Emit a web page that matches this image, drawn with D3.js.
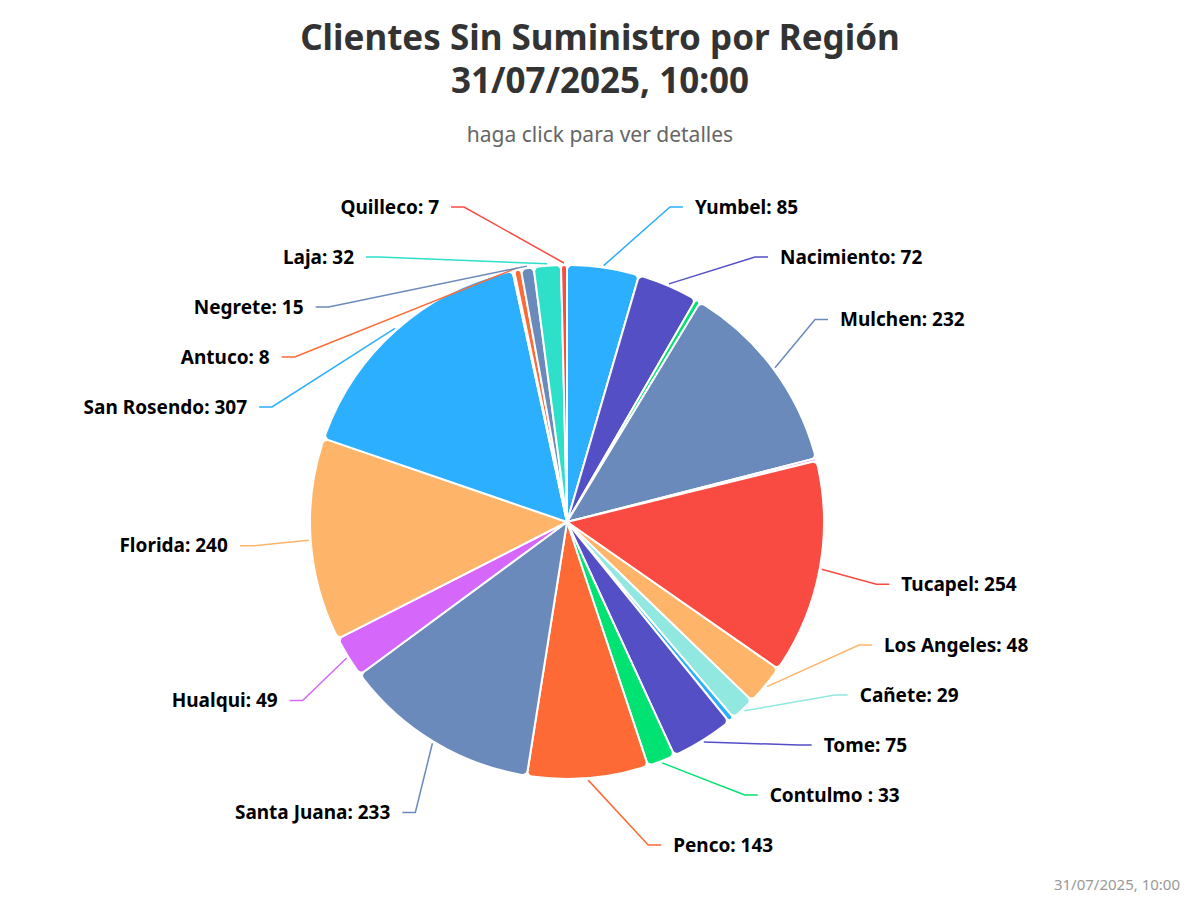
<!DOCTYPE html>
<html><head><meta charset="utf-8">
<script src="https://cdn.jsdelivr.net/npm/d3@7"></script>
<style>body{margin:0;background:#fff}text{font-family:"Noto Sans","Open Sans",Arial,sans-serif}</style>
</head><body>
<svg id="c" width="1200" height="900"></svg>
<script>
const names = ["Yumbel","Nacimiento","","Mulchen","","Tucapel","Los Angeles","Cañete","","Tome","Contulmo ","Penco","Santa Juana","Hualqui","Florida","San Rosendo","","Antuco","Negrete","Laja","Quilleco"];
const values = [85,72,6,232,3,254,48,29,7,75,33,143,233,49,240,307,2,8,15,32,7];
const colors = ["#2caffe","#544fc5","#00e272","#6b8abc","#d568fb","#fa4b42","#feb56a","#91e8e1","#2caffe","#544fc5","#00e272","#fe6a35","#6b8abc","#d568fb","#feb56a","#2caffe","#00e272","#fe6a35","#6b8abc","#2ee0ca","#fa4b42"];
const data = names.map((n,i)=>({name:n,value:values[i],color:colors[i]}));

const svg = d3.select("#c");
svg.append("text").attr("x",600).attr("y",50).attr("text-anchor","middle").attr("font-size",35).attr("font-weight","bold").attr("fill","#333").text("Clientes Sin Suministro por Región");
svg.append("text").attr("x",600).attr("y",93).attr("text-anchor","middle").attr("font-size",35).attr("font-weight","bold").attr("fill","#333").text("31/07/2025, 10:00");
svg.append("text").attr("x",600).attr("y",142).attr("text-anchor","middle").attr("font-size",21).attr("fill","#666").text("haga click para ver detalles");
svg.append("text").attr("x",1180).attr("y",890).attr("text-anchor","end").attr("font-size",15).attr("fill","#999").text("31/07/2025, 10:00");

const cx=567, cy=522, r=257, Rl=340;
const pie = d3.pie().value(d=>d.value).sort(null);
const arcs = pie(data);
const arc = d3.arc().innerRadius(0).outerRadius(r).cornerRadius(5);
const g = svg.append("g").attr("transform",`translate(${cx},${cy})`);
g.selectAll("path").data(arcs).join("path").attr("d",arc).attr("fill",d=>d.data.color).attr("stroke","#fff").attr("stroke-width",2).attr("stroke-linejoin","round");

const labs = arcs.filter(a=>a.data.name).map(a=>{
  const m=(a.startAngle+a.endAngle)/2;
  return {a, m, side: Math.sin(m)>=0?1:-1, y: -Rl*Math.cos(m)};
});
const yTop=-315, yBot=323, gap=50;
[1,-1].forEach(s=>{
  const L=labs.filter(l=>l.side===s).sort((p,q)=>p.y-q.y);
  L.forEach(l=>{l.y=Math.max(yTop,Math.min(yBot,l.y));});
  for(let i=1;i<L.length;i++) if(L[i].y<L[i-1].y+gap) L[i].y=L[i-1].y+gap;
  if(L.length&&L[L.length-1].y>yBot){L[L.length-1].y=yBot;for(let i=L.length-2;i>=0;i--) if(L[i].y>L[i+1].y-gap) L[i].y=L[i+1].y-gap;}
});
labs.forEach(l=>{
  const dy=Math.min(Math.abs(l.y),Rl-1);
  const x=l.side*Math.sqrt(Rl*Rl-dy*dy);
  const px=Math.sin(l.m)*(r+2), py=-Math.cos(l.m)*(r+2);
  const ex=x-l.side*25;
  g.append("path").attr("d",`M${px},${py}L${ex},${l.y}L${x-l.side*12},${l.y}`).attr("fill","none").attr("stroke",l.a.data.color).attr("stroke-width",1.5);
  g.append("text").attr("x",x).attr("y",l.y).attr("dy","0.35em").attr("text-anchor",l.side>0?"start":"end").attr("font-size",19).attr("font-weight","bold").attr("fill","#000").text(`${l.a.data.name}: ${l.a.data.value}`);
});
</script>
</body></html>
